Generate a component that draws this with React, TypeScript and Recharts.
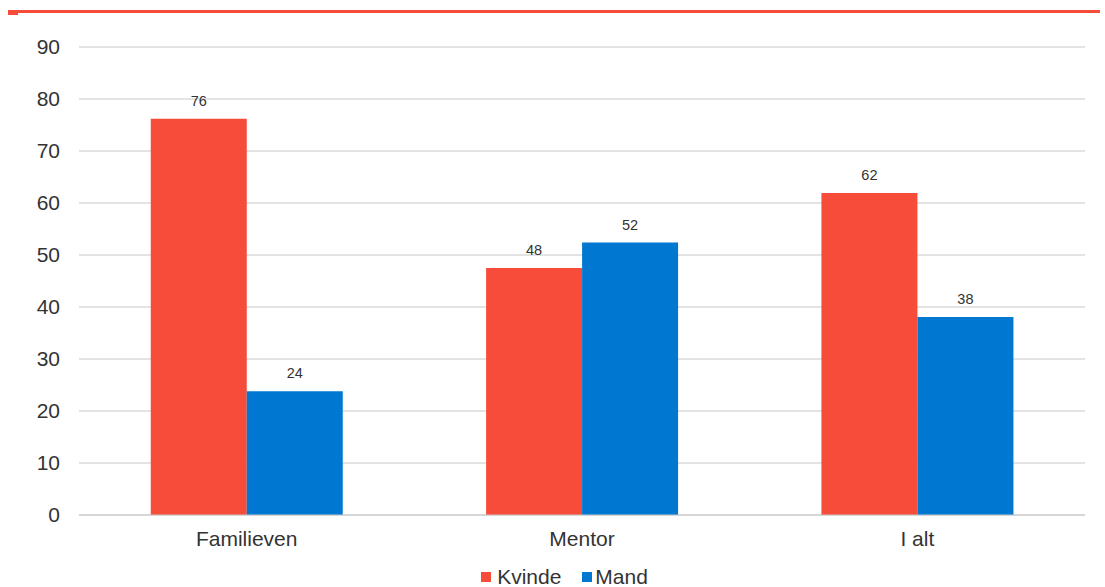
import React from "react";
import { BarChart, Bar, XAxis, YAxis, CartesianGrid, LabelList, Legend } from "recharts";

const categories = ["Familieven", "Mentor", "I alt"];
const kvinde = [76.2, 47.5, 61.9];
const mand = [23.8, 52.4, 38.1];
const yTicks = [0, 10, 20, 30, 40, 50, 60, 70, 80, 90];

const data = categories.map((c, i) => ({ name: c, Kvinde: kvinde[i], Mand: mand[i] }));

const RED = "#F84C3B";
const BLUE = "#0077D1";
const FONT = "'Liberation Sans', Arial, sans-serif";

const LegendContent = () => (
  <div style={{ boxSizing: "border-box", height: 36, paddingTop: 16, display: "flex", justifyContent: "center", alignItems: "center", fontFamily: FONT, fontSize: 21, lineHeight: "20px", color: "#333", paddingLeft: 44 }}>
    <span style={{ display: "inline-block", width: 10, height: 10, background: RED, marginRight: 6 }} />
    <span style={{ marginRight: 21 }}>Kvinde</span>
    <span style={{ display: "inline-block", width: 10, height: 10, background: BLUE, marginRight: 3 }} />
    <span>Mand</span>
  </div>
);

export default function App() {
  return (
    <div style={{ position: "absolute", left: 0, top: 0, width: 1105, height: 587, background: "#fff" }}>
      <div style={{ position: "absolute", left: 8, top: 10, width: 1092, height: 3, background: RED }} />
      <div style={{ position: "absolute", left: 8, top: 10, width: 10, height: 5, background: RED }} />
      <BarChart width={1105} height={587} data={data} margin={{ top: 47, right: 20, bottom: 0, left: 0 }} barCategoryGap="21.4%" barGap={0}>
        <CartesianGrid vertical={false} stroke="#c8c8c8" />
        <XAxis dataKey="name" axisLine={{ stroke: "#c8c8c8" }} tickLine={false} tickSize={0} tickMargin={16} height={36} tick={{ fill: "#333", fontSize: 21, fontFamily: FONT }} />
        <YAxis domain={[0, 90]} ticks={yTicks} width={79} axisLine={false} tickLine={false} tickSize={0} tickMargin={19} tick={{ fill: "#333", fontSize: 21, fontFamily: FONT }} />
        <Legend verticalAlign="bottom" content={<LegendContent />} wrapperStyle={{ height: 36 }} />
        <Bar dataKey="Kvinde" fill={RED} isAnimationActive={false}>
          <LabelList dataKey="Kvinde" position="top" offset={13} formatter={(v: number) => Math.round(v)} style={{ fill: "#333", fontSize: 14.5, fontFamily: FONT }} />
        </Bar>
        <Bar dataKey="Mand" fill={BLUE} isAnimationActive={false}>
          <LabelList dataKey="Mand" position="top" offset={13} formatter={(v: number) => Math.round(v)} style={{ fill: "#333", fontSize: 14.5, fontFamily: FONT }} />
        </Bar>
      </BarChart>
    </div>
  );
}
